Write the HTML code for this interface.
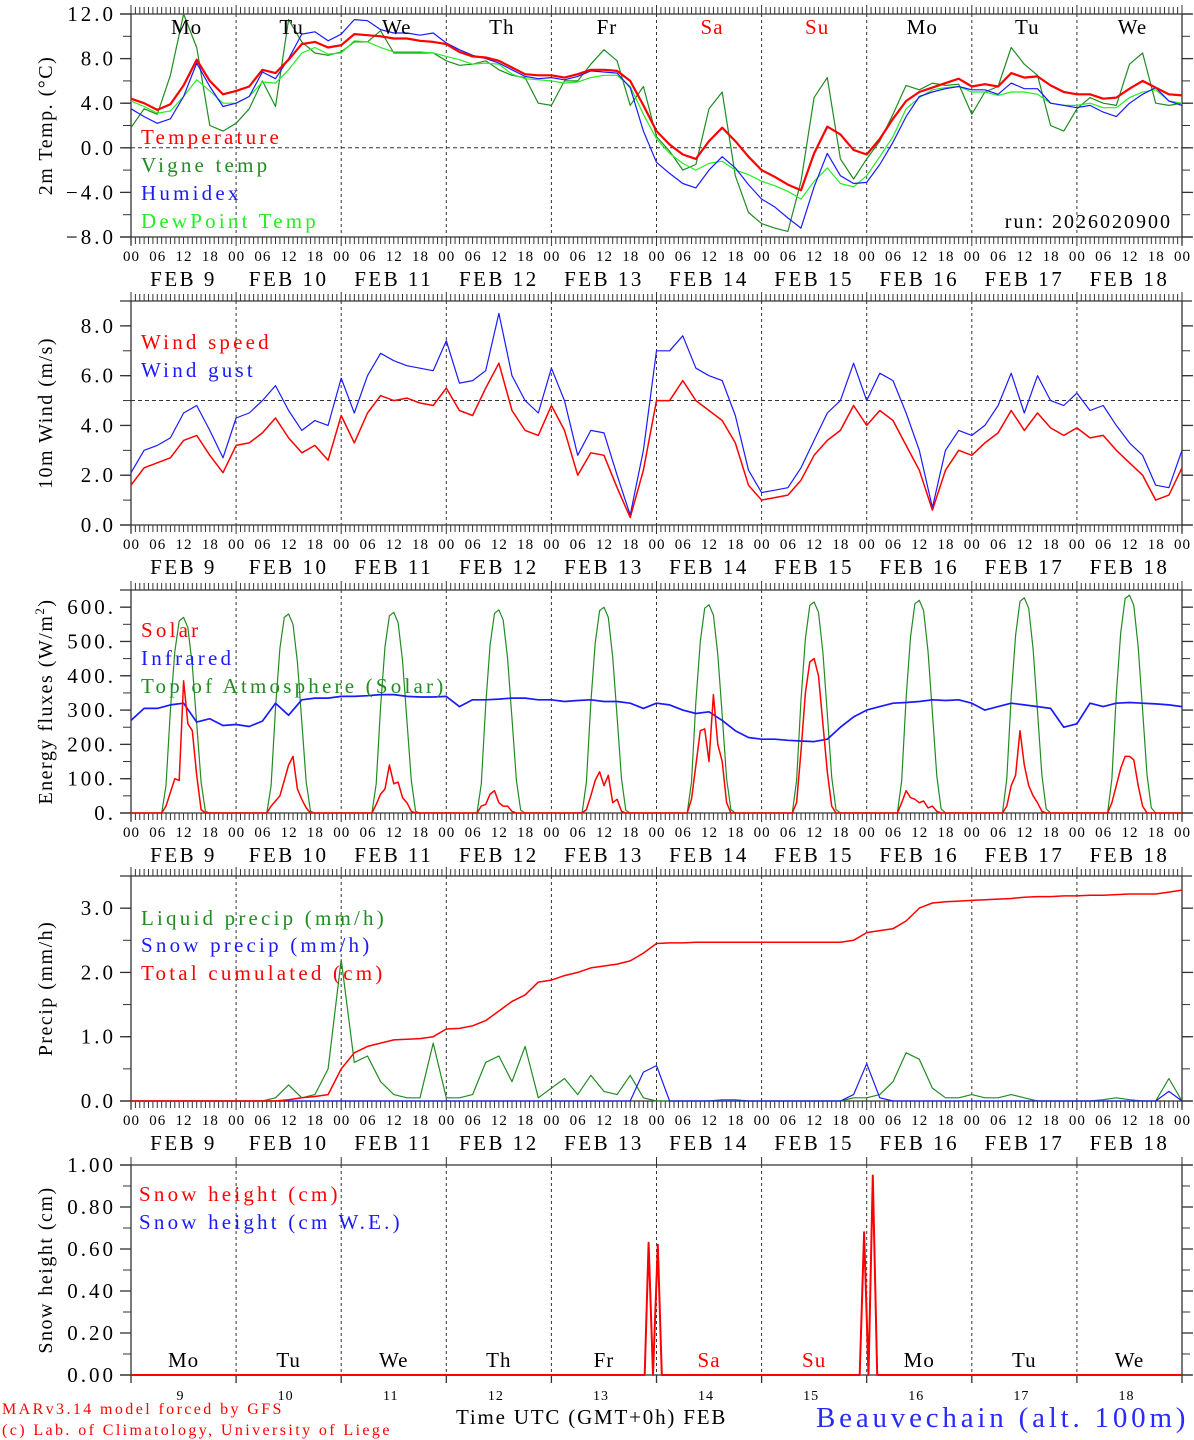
<!DOCTYPE html>
<html><head><meta charset="utf-8">
<style>
html,body{margin:0;padding:0;background:#fff;}
svg{display:block;font-family:"Liberation Serif",serif;}
</style></head>
<body>
<svg id="chart" width="1194" height="1440" viewBox="0 0 1194 1440" xmlns="http://www.w3.org/2000/svg"></svg>
<script>
// ---------- DATA (3-hourly from Feb 9 00 UTC, 81 values) ----------
const dayLetters = ['Mo','Tu','We','Th','Fr','Sa','Su','Mo','Tu','We'];
const dayNums = ['9','10','11','12','13','14','15','16','17','18'];
const hourLabels = ['00','06','12','18'];

const tempT = [4.4,4.0,3.4,3.9,5.6,7.9,6.0,4.8, 5.1,5.5,7.0,6.7,7.9,9.3,9.5,9.0, 9.2,10.2,10.1,10.0,9.8,9.8,9.6,9.5, 9.3,8.6,8.2,8.1,7.8,7.2,6.6,6.5, 6.5,6.3,6.6,7.0,7.0,6.9,6.0,3.8, 1.5,0.3,-0.6,-1.0,0.6,1.8,0.6,-0.8, -2.0,-2.6,-3.3,-3.8,-0.5,1.9,1.2,-0.2, -0.6,0.8,2.6,4.2,5.0,5.4,5.8,6.2, 5.5,5.7,5.5,6.7,6.3,6.4,5.6,5.0, 4.8,4.8,4.4,4.5,5.3,6.0,5.4,4.8,4.7];
const tempVigne = [1.8,3.5,3.0,6.5,12.0,9.0,2.0,1.5, 2.2,3.5,6.0,3.7,11.5,9.5,8.5,8.3, 8.6,9.5,9.5,10.5,8.5,8.5,8.5,8.5, 7.8,7.4,7.5,7.8,7.0,6.5,6.3,4.0, 3.8,6.0,6.0,7.5,8.8,7.8,3.8,5.5, 1.0,-0.3,-2.0,-1.5,3.5,5.0,-2.5,-5.8, -6.8,-7.2,-7.5,-3.0,4.5,6.3,-1.0,-2.8, -1.0,0.6,3.0,5.6,5.2,5.8,5.6,5.7, 3.0,5.0,5.5,9.0,7.5,6.5,2.0,1.5, 3.5,4.5,4.0,3.8,7.5,8.5,4.0,3.8,4.0];
const tempHumidex = [3.5,2.8,2.2,2.6,4.6,7.6,5.5,3.7, 4.0,4.6,6.8,6.2,8.0,10.2,10.4,9.6, 10.2,11.5,11.4,10.6,10.3,10.3,10.1,10.3, 9.4,8.8,8.3,8.0,7.6,7.0,6.4,6.2, 6.3,6.1,6.4,6.9,6.8,6.7,5.4,1.5, -1.3,-2.3,-3.2,-3.6,-2.0,-0.8,-1.8,-3.3, -4.6,-5.3,-6.3,-7.2,-3.5,-0.5,-2.5,-3.2, -3.1,-1.5,0.5,2.8,4.6,5.0,5.3,5.5, 5.2,5.2,4.8,5.8,5.3,5.3,4.0,3.8, 3.6,3.8,3.2,2.8,4.0,4.8,5.4,4.2,3.8];
const tempDew = [4.2,3.7,3.1,3.3,4.6,6.1,5.1,4.0, 4.0,4.6,5.9,5.8,7.0,8.5,9.0,8.4, 8.5,9.6,9.5,9.0,8.6,8.6,8.6,8.5, 8.2,7.9,7.5,7.6,7.5,6.6,6.2,6.1, 6.0,5.8,5.9,6.3,6.5,6.5,5.5,3.0, 0.8,-0.5,-1.4,-2.0,-1.4,-1.2,-2.0,-2.4, -3.0,-3.4,-3.9,-4.6,-3.0,-1.8,-3.2,-3.5, -2.5,-0.8,1.0,3.5,4.5,5.2,5.4,5.5, 5.0,5.0,4.7,5.0,5.0,4.8,4.0,3.8, 3.8,4.0,3.6,3.6,4.5,5.0,5.2,4.2,4.0];

const windSpeed = [1.6,2.3,2.5,2.7,3.4,3.6,2.8,2.1, 3.2,3.3,3.7,4.3,3.5,2.9,3.2,2.6, 4.4,3.3,4.5,5.2,5.0,5.1,4.9,4.8, 5.5,4.6,4.4,5.5,6.5,4.6,3.8,3.6, 4.8,3.8,2.0,2.9,2.8,1.5,0.3,2.2, 5.0,5.0,5.8,5.0,4.6,4.2,3.3,1.6, 1.0,1.1,1.2,1.8,2.8,3.4,3.8,4.8, 4.0,4.6,4.2,3.2,2.2,0.6,2.2,3.0, 2.8,3.3,3.7,4.6,3.8,4.5,3.9,3.6, 3.9,3.5,3.6,3.0,2.5,2.0,1.0,1.2,2.3];
const windGust = [2.1,3.0,3.2,3.5,4.5,4.8,3.8,2.7, 4.3,4.5,5.0,5.6,4.6,3.8,4.2,4.0, 5.9,4.5,6.0,6.9,6.6,6.4,6.3,6.2, 7.4,5.7,5.8,6.2,8.5,6.0,5.0,4.5, 6.3,5.0,2.8,3.8,3.7,2.0,0.4,3.0, 7.0,7.0,7.6,6.3,6.0,5.8,4.4,2.2, 1.3,1.4,1.5,2.3,3.4,4.5,5.0,6.5, 5.0,6.1,5.8,4.5,3.0,0.7,3.0,3.8, 3.6,4.0,4.8,6.1,4.5,6.0,5.0,4.8, 5.3,4.6,4.8,4.0,3.3,2.8,1.6,1.5,3.0];

// hourly daylight values for hours 07..17 each day
const solarDays = [
 [0,20,60,100,95,385,260,240,110,10,0],
 [0,20,35,50,95,140,165,70,40,15,0],
 [0,25,55,70,140,85,90,45,30,5,0],
 [0,20,25,55,65,30,20,20,5,0,0],
 [0,10,50,95,120,80,110,30,40,5,0],
 [0,40,140,240,245,150,345,200,150,30,0],
 [0,30,180,350,440,450,400,260,120,20,0],
 [0,30,65,45,40,30,35,15,20,5,0],
 [0,20,80,110,240,140,80,50,30,5,0],
 [0,30,80,130,165,165,155,80,20,0,0]];
const toaDays = [
 [0,80,300,470,560,570,540,430,260,90,5],
 [0,80,305,480,570,580,550,440,265,90,5],
 [0,85,310,485,575,585,555,445,270,95,5],
 [0,85,315,490,582,592,562,450,275,95,8],
 [0,90,320,495,590,600,570,455,280,100,8],
 [0,90,325,500,597,607,577,462,285,100,10],
 [0,95,330,508,605,615,585,468,290,105,10],
 [0,95,335,512,610,620,590,472,292,108,12],
 [0,100,340,518,617,627,597,478,296,110,12],
 [0,100,345,525,625,635,605,484,300,112,15]];
const infrared = [270,305,305,315,320,265,275,255, 258,252,268,320,285,330,335,335, 340,340,342,345,345,340,338,338, 340,310,330,330,332,335,335,330, 330,325,328,330,325,325,320,305, 320,315,300,290,295,270,240,220, 215,215,212,210,208,215,250,280, 300,310,320,322,325,330,328,330, 320,300,310,320,315,310,305,250, 260,320,310,320,322,320,318,315,310];

const precipLiquid = [0,0,0,0,0,0,0,0, 0,0,0,0.05,0.25,0.05,0.1,0.5, 2.2,0.6,0.7,0.3,0.1,0.05,0.05,0.9, 0.05,0.05,0.1,0.6,0.7,0.3,0.85,0.05, 0.2,0.35,0.1,0.4,0.15,0.1,0.4,0.05, 0,0,0,0,0,0.02,0.02,0, 0,0,0,0,0,0,0,0.05, 0.05,0.1,0.3,0.75,0.65,0.2,0.05,0.05, 0.1,0.05,0.05,0.1,0.05,0,0,0, 0,0,0.02,0.05,0.02,0,0,0.35,0];
const precipSnow = [0,0,0,0,0,0,0,0, 0,0,0,0,0,0,0,0, 0,0,0,0,0,0,0,0, 0,0,0,0,0,0,0,0, 0,0,0,0,0,0,0,0.45, 0.55,0,0,0,0,0,0,0, 0,0,0,0,0,0,0,0.1, 0.58,0.05,0,0,0,0,0,0, 0,0,0,0,0,0,0,0, 0,0,0,0,0,0,0,0.15,0];
const precipCum = [0,0,0,0,0,0,0,0, 0,0,0,0,0.02,0.05,0.07,0.1, 0.5,0.75,0.85,0.9,0.95,0.96,0.97,1.0, 1.12,1.13,1.17,1.25,1.4,1.55,1.65,1.85, 1.88,1.95,2.0,2.07,2.1,2.13,2.18,2.3, 2.45,2.46,2.46,2.47,2.47,2.47,2.47,2.47, 2.47,2.47,2.47,2.47,2.47,2.47,2.47,2.5, 2.62,2.65,2.68,2.8,3.0,3.08,3.1,3.11, 3.12,3.13,3.14,3.15,3.17,3.18,3.18,3.19, 3.19,3.2,3.2,3.21,3.22,3.22,3.22,3.25,3.28];

const snowHours = [0,117.3,118.2,119.2,120.3,121.2,166.4,167.4,168.4,169.4,170.4,240];
const snowHeight = [0,0,0.63,0,0.62,0,0,0.68,0,0.95,0,0];

// ---------- DRAWING ----------
const NS='http://www.w3.org/2000/svg';
const svg=document.getElementById('chart');
const L=131,R=1182;
const X=h=>L+h*(R-L)/240;
function mk(tag,attrs,parent,text){const e=document.createElementNS(NS,tag);for(const k in attrs)e.setAttribute(k,attrs[k]);if(text!==undefined)e.textContent=text;(parent||svg).appendChild(e);return e;}
function panel(top,bottom,min,max){return {top,bottom,min,max,Y:v=>bottom-(v-min)/(max-min)*(bottom-top)};}

const P1=panel(14,237,-8,12), P2=panel(301,525,0,9), P3=panel(590,813,0,650), P4=panel(876,1101,0,3.5), P5=panel(1165,1375,0,1);

function frame(p,name,hourTicks){
  const g=mk('g',{});
  
  
  mk('line',{x1:120,y1:p.top,x2:R+10,y2:p.top,stroke:'#333','stroke-width':1.3},g);
  mk('line',{x1:120,y1:p.bottom,x2:R+10,y2:p.bottom,stroke:'#333','stroke-width':1.3},g);
  mk('line',{x1:L,y1:p.top,x2:L,y2:p.bottom+8,stroke:'#333','stroke-width':1.3},g);
  mk('line',{x1:R,y1:p.top,x2:R,y2:p.bottom+8,stroke:'#333','stroke-width':1.3},g);
  for(let d=1;d<10;d++){
    mk('line',{x1:X(d*24),y1:p.top,x2:X(d*24),y2:p.bottom,stroke:'#333','stroke-width':1,'stroke-dasharray':'3,3'},g);
    if(!hourTicks) mk('line',{x1:X(d*24),y1:p.bottom,x2:X(d*24),y2:p.bottom+8,stroke:'#333','stroke-width':1.3},g);
  }
  if(hourTicks){
    for(let h=0;h<=240;h++){
      const big=h%24===0;
      mk('line',{x1:X(h),y1:p.top,x2:X(h),y2:p.top-(big?9:7),stroke:'#333','stroke-width':1},g);
      mk('line',{x1:X(h),y1:p.bottom,x2:X(h),y2:p.bottom+(big?9:7),stroke:'#333','stroke-width':1},g);
    }
  } else {
    for(let d=0;d<=10;d++) mk('line',{x1:X(d*24),y1:p.top,x2:X(d*24),y2:p.top-8,stroke:'#333','stroke-width':1},g);
  }
  return g;
}
function yTicks(p,vals,labels,minorStep,name){
  const g=mk('g',{});
  
  
  for(let v=p.min;v<=p.max+1e-9;v+=minorStep){
    const y=p.Y(v);
    mk('line',{x1:L-8,y1:y,x2:L,y2:y,stroke:'#333','stroke-width':1},g);
    mk('line',{x1:R,y1:y,x2:R+8,y2:y,stroke:'#333','stroke-width':1},g);
  }
  vals.forEach((v,i)=>{
    const y=p.Y(v);
    mk('line',{x1:L-11,y1:y,x2:L,y2:y,stroke:'#333','stroke-width':1.3},g);
    mk('line',{x1:R,y1:y,x2:R+11,y2:y,stroke:'#333','stroke-width':1.3},g);
    mk('text',{x:116,y:y+7,'text-anchor':'end','font-size':21,'letter-spacing':3,fill:'#000'},g,labels[i]);
  });
}
function xLabels(p){
  const g=mk('g',{});
  
  
  for(let d=0;d<10;d++){
    for(let k=0;k<4;k++){
      mk('text',{x:X(d*24+k*6)+0.5,y:p.bottom+24,'text-anchor':'middle','font-size':15,'letter-spacing':1,fill:'#000'},g,hourLabels[k]);
    }
    mk('text',{x:X(d*24+12)+0,y:p.bottom+49,'text-anchor':'middle','font-size':21,'letter-spacing':2.5,fill:'#000','xml:space':'preserve'},g,'FEB '+(dayNums[d].length<2?'  ':' ')+dayNums[d]);
  }
  mk('text',{x:X(240)+0.5,y:p.bottom+24,'text-anchor':'middle','font-size':15,'letter-spacing':1,fill:'#000'},g,'00');
}
function yTitle(p,txt){
  const cy=(p.top+p.bottom)/2;
  const t=mk('text',{x:0,y:0,transform:`translate(52,${cy}) rotate(-90)`,'text-anchor':'middle','font-size':20,'letter-spacing':1.5,fill:'#000'},svg,txt);
  
  
  return t;
}
function series(arr,step,p,color,w,name){
  const pts=arr.map((v,i)=>X(i*step).toFixed(1)+','+p.Y(v).toFixed(1)).join(' ');
  const e=mk('polyline',{points:pts,fill:'none',stroke:color,'stroke-width':w,'stroke-linejoin':'round'});
  
  
}
function seriesXY(hours,vals,p,color,w,name){
  const pts=vals.map((v,i)=>X(hours[i]).toFixed(1)+','+p.Y(v).toFixed(1)).join(' ');
  const e=mk('polyline',{points:pts,fill:'none',stroke:color,'stroke-width':w,'stroke-linejoin':'round'});
  
  
}
function legend(x,y,txt,color,name){
  const t=mk('text',{x:x,y:y,'font-size':21,'letter-spacing':3.2,fill:color,'xml:space':'preserve'},svg,txt);
  
  
}
function hline(p,v){mk('line',{x1:L,y1:p.Y(v),x2:R,y2:p.Y(v),stroke:'#333','stroke-width':1,'stroke-dasharray':'4,3'});}
function daylyExpand(days){const out=[];for(let d=0;d<10;d++)for(let h=0;h<24;h++)out.push(h>=7&&h<=17?days[d][h-7]:0);out.push(0);return out;}

// Panel 1
frame(P1,'temperature',true);
yTicks(P1,[12,8,4,0,-4,-8],['12.0','8.0','4.0','0.0','\u22124.0','\u22128.0'],2,'temperature-y-ticks');
xLabels(P1); yTitle(P1,'2m Temp. (\u00b0C)'); hline(P1,0);
series(tempVigne,3,P1,'#228B22',1.2,'vigne-temp-line');
series(tempDew,3,P1,'#22ee22',1.2,'dewpoint-line');
series(tempHumidex,3,P1,'#1a1aff',1.2,'humidex-line');
series(tempT,3,P1,'#ff0000',2.2,'temperature-line');
for(let d=0;d<10;d++){const t=mk('text',{x:X(d*24+12)+3,y:34,'text-anchor':'middle','font-size':21,'letter-spacing':1,fill:(d===5||d===6)?'#ff0000':'#000'},svg,dayLetters[d]);}
legend(141,144,'Temperature','#ff0000','legend-temperature');
legend(141,172,'Vigne temp','#228B22','legend-vigne');
legend(141,200,'Humidex','#1a1aff','legend-humidex');
legend(141,228,'DewPoint Temp','#22ee22','legend-dewpoint');
{const t=mk('text',{x:1172,y:228,'text-anchor':'end','font-size':20,'letter-spacing':2,fill:'#000'},svg,'run: 2026020900');}

// Panel 2
frame(P2,'wind',true);
yTicks(P2,[0,2,4,6,8],['0.0','2.0','4.0','6.0','8.0'],1,'wind-y-ticks');
xLabels(P2); yTitle(P2,'10m Wind (m/s)'); hline(P2,5);
series(windGust,3,P2,'#1a1aff',1.2,'wind-gust-line');
series(windSpeed,3,P2,'#ff0000',1.5,'wind-speed-line');
legend(141,349,'Wind speed','#ff0000','legend-wind-speed');
legend(141,377,'Wind gust','#1a1aff','legend-wind-gust');

// Panel 3
frame(P3,'energy',true);
yTicks(P3,[0,100,200,300,400,500,600],['0.','100.','200.','300.','400.','500.','600.'],50,'energy-y-ticks');
xLabels(P3);
{const t=mk('text',{x:0,y:0,transform:`translate(52,${(P3.top+P3.bottom)/2}) rotate(-90)`,'text-anchor':'middle','font-size':20,'letter-spacing':1.5,fill:'#000'},svg);
 
 t.appendChild(document.createTextNode('Energy fluxes (W/m'));
 mk('tspan',{dy:-8,'font-size':13},t,'2');mk('tspan',{dy:8},t,')');}
series(daylyExpand(toaDays),1,P3,'#228B22',1.2,'toa-solar-line');
series(infrared,3,P3,'#1a1aff',1.7,'infrared-line');
series(daylyExpand(solarDays),1,P3,'#ff0000',1.5,'solar-line');
legend(141,637,'Solar','#ff0000','legend-solar');
legend(141,665,'Infrared','#1a1aff','legend-infrared');
legend(141,693,'Top of Atmosphere (Solar)','#228B22','legend-toa');

// Panel 4
frame(P4,'precip',true);
yTicks(P4,[0,1,2,3],['0.0','1.0','2.0','3.0'],0.5,'precip-y-ticks');
xLabels(P4); yTitle(P4,'Precip (mm/h)');
series(precipLiquid,3,P4,'#228B22',1.2,'liquid-precip-line');
series(precipSnow,3,P4,'#1a1aff',1.2,'snow-precip-line');
series(precipCum,3,P4,'#ff0000',1.5,'total-cumulated-line');
legend(141,925,'Liquid precip (mm/h)','#228B22','legend-liquid');
legend(141,952,'Snow precip (mm/h)','#1a1aff','legend-snow-precip');
legend(141,980,'Total cumulated (cm)','#ff0000','legend-cumulated');

// Panel 5
frame(P5,'snow',false);
yTicks(P5,[0,0.2,0.4,0.6,0.8,1.0],['0.00','0.20','0.40','0.60','0.80','1.00'],0.1,'snow-y-ticks');
yTitle(P5,'Snow height (cm)');
seriesXY(snowHours,snowHeight,P5,'#ff0000',2,'snow-height-line');
for(let d=0;d<10;d++){
  const t=mk('text',{x:X(d*24+12),y:1367,'text-anchor':'middle','font-size':21,'letter-spacing':1,fill:(d===5||d===6)?'#ff0000':'#000'},svg,dayLetters[d]);
  
  const n=mk('text',{x:X(d*24+12)-3,y:1400,'text-anchor':'middle','font-size':14,'letter-spacing':1,fill:'#000'},svg,dayNums[d]);
  
}
legend(139,1201,'Snow height (cm)','#ff0000','legend-snow-height');
legend(139,1229,'Snow height (cm W.E.)','#1a1aff','legend-snow-we');

// Footer
{let t=mk('text',{x:2,y:1414,'font-size':16,'letter-spacing':2.4,fill:'#ff0000'},svg,'MARv3.14 model forced by GFS');
 t=mk('text',{x:2,y:1435,'font-size':16,'letter-spacing':2.4,fill:'#ff0000'},svg,'(c) Lab. of Climatology, University of Liege');
 t=mk('text',{x:456,y:1424,'font-size':21,'letter-spacing':1.8,fill:'#000'},svg,'Time UTC (GMT+0h) FEB');
 t=mk('text',{x:816,y:1427,'font-size':29,'letter-spacing':3.8,fill:'#2a2aff'},svg,'Beauvechain (alt. 100m)');}
</script>
</body></html>
